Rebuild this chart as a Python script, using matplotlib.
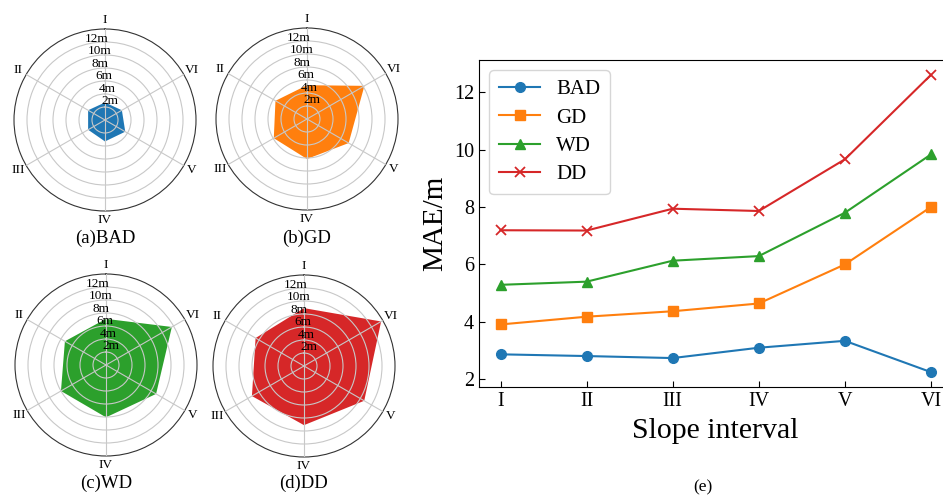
import numpy as np
import matplotlib
matplotlib.use("Agg")
import matplotlib.pyplot as plt

plt.rcParams['font.family'] = ['Liberation Serif', 'DejaVu Serif']

intervals = ["I", "II", "III", "IV", "V", "VI"]
series = ["BAD", "GD", "WD", "DD"]
colors = ["#1f77b4", "#ff7f0e", "#2ca02c", "#d62728"]
markers = ["o", "s", "^", "x"]

# line chart values (MAE/m)
mae_bad = [2.87, 2.81, 2.74, 3.10, 3.34, 2.25]
mae_gd = [3.91, 4.18, 4.37, 4.64, 6.00, 8.00]
mae_wd = [5.29, 5.40, 6.13, 6.29, 7.80, 9.83]
mae_dd = [7.19, 7.18, 7.94, 7.86, 9.66, 12.60]

# radar values as drawn
radar_bad = [2.7, 3.0, 3.0, 3.3, 3.6, 3.0]
radar_gd = [5.2, 5.6, 5.9, 6.15, 7.4, 10.2]
radar_wd = [7.1, 7.3, 8.0, 8.05, 8.9, 11.7]
radar_dd = [8.9, 8.6, 9.25, 9.1, 10.7, 13.7]

r_ticks = [2, 4, 6, 8, 10, 12]
r_labels = ["2m", "4m", "6m", "8m", "10m", "12m"]

fig = plt.figure(figsize=(9.43, 4.95), dpi=100)

radar_axes = [
    (14, 29), (216, 28), (15, 274), (213, 275)
]
caption_y = [238, 238, 483, 483]
radar_data = [radar_bad, radar_gd, radar_wd, radar_dd]
captions = ["(a)BAD", "(b)GD", "(c)WD", "(d)DD"]
W, H = 943, 495
size = 182
angles = np.arange(6) * 2 * np.pi / 6
for (lx, ty), cy, vals, col, cap in zip(radar_axes, caption_y, radar_data, colors, captions):
    ax = fig.add_axes([lx / W, 1 - (ty + size) / H, size / W, size / H], projection='polar')
    ax.set_theta_offset(np.pi / 2)
    ax.set_theta_direction(1)
    ang = np.concatenate([angles, angles[:1]])
    v = np.concatenate([vals, vals[:1]])
    ax.fill(ang, v, color=col, alpha=1.0, linewidth=0, zorder=1)
    ax.set_ylim(0, 14)
    ax.set_yticks(r_ticks)
    ax.set_yticklabels(r_labels, fontsize=9.5)
    ax.set_rlabel_position(15)
    ax.set_xticks(angles)
    ax.set_xticklabels(intervals, fontsize=9.5)
    ax.tick_params(axis='x', pad=-4)
    ax.set_axisbelow(False)
    ax.grid(True, color='#c8c8c8', linewidth=0.8, zorder=2)
    ax.spines['polar'].set_color('#333333')
    ax.spines['polar'].set_linewidth(0.8)
    cx = (lx + size / 2) / W
    fig.text(cx, 1 - cy / H, cap, ha='center', va='center', fontsize=13.5)

# line chart
ax = fig.add_axes([479 / W, 1 - 387 / H, (952.5 - 479) / W, (387 - 60) / H])
x = np.arange(len(intervals))
for name, vals, col, mk in zip(series, [mae_bad, mae_gd, mae_wd, mae_dd], colors, markers):
    ax.plot(x, vals, color=col, marker=mk, markersize=7, linewidth=1.5, label=name,
            markeredgewidth=1.3 if mk == 'x' else 1.0)
ax.set_xticks(x)
ax.set_xticklabels(intervals)
ax.set_yticks([2, 4, 6, 8, 10, 12])
ax.tick_params(direction='in', labelsize=14.5, length=4)
ax.set_xlabel("Slope interval", fontsize=21.5, labelpad=5)
ax.set_ylabel("MAE/m", fontsize=21, labelpad=4)
leg = ax.legend(loc='upper left', fontsize=15, handlelength=2.0, borderpad=0.45,
                labelspacing=0.42, handletextpad=0.75)
leg.get_frame().set_edgecolor('#cccccc')
fig.text(703 / W, 1 - 487 / H, "(e)", ha='center', va='center', fontsize=12.5)

fig.savefig("out.png", dpi=100)
